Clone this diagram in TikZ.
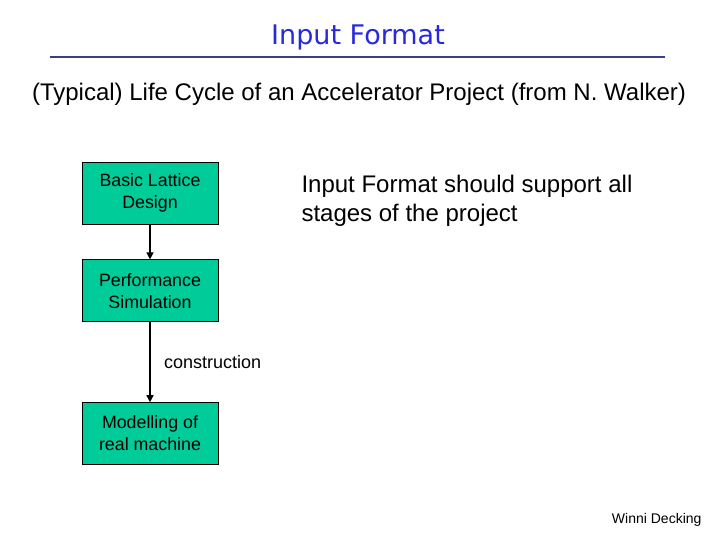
\documentclass[tikz,border=0pt]{standalone}
\usepackage{fontspec}
\setmainfont{Liberation Sans}
\newfontfamily\titlefont{DejaVu Sans}
\usetikzlibrary{arrows.meta,positioning}
\definecolor{stagegreen}{RGB}{0,204,153}
\definecolor{titleblue}{RGB}{40,40,220}
\definecolor{ruleblue}{RGB}{60,60,140}

\begin{document}
\begin{tikzpicture}[x=1pt,y=-1pt,
  stagebox/.style={draw=black, fill=stagegreen, line width=0.8pt, minimum width=136pt, minimum height=62pt, align=center, font=\fontsize{17.8}{22}\selectfont, inner sep=0pt},
  flow/.style={line width=1.5pt, -{Triangle[length=7pt,width=7pt]}}]
\useasboundingbox (0,0) rectangle (720,540);
% title and rule
\node (title) at (358,37) {\titlefont\fontsize{27}{30}\selectfont\color{titleblue}Input Format};
\coordinate (ruleL) at (50,57);
\coordinate (ruleR) at (665,57);
\draw[ruleblue, line width=1.5pt] (ruleL) -- (ruleR);
\node (subtitle) at (359,94) {\fontsize{24}{28}\selectfont (Typical) Life Cycle of an Accelerator Project (from N. Walker)};
% stages
\node[stagebox] (basic) at (150,193) {Basic Lattice\\Design};
\node[stagebox, below=35pt of basic] (perf) {Performance\\Simulation};
\node[stagebox, below=80pt of perf] (model) {Modelling of\\real machine};
\draw[flow] (basic) -- (perf);
\draw[flow] (perf) -- node[right=10pt, font=\fontsize{18}{21}\selectfont] (constr) {construction} (model);
% remark
\node[anchor=west, align=left, font=\fontsize{24}{29}\selectfont] (remark) at (298,201) {Input Format should support all\\stages of the project};
\node[anchor=east, font=\fontsize{14}{16}\selectfont] (author) at (705,520) {Winni Decking};
\end{tikzpicture}
\end{document}
